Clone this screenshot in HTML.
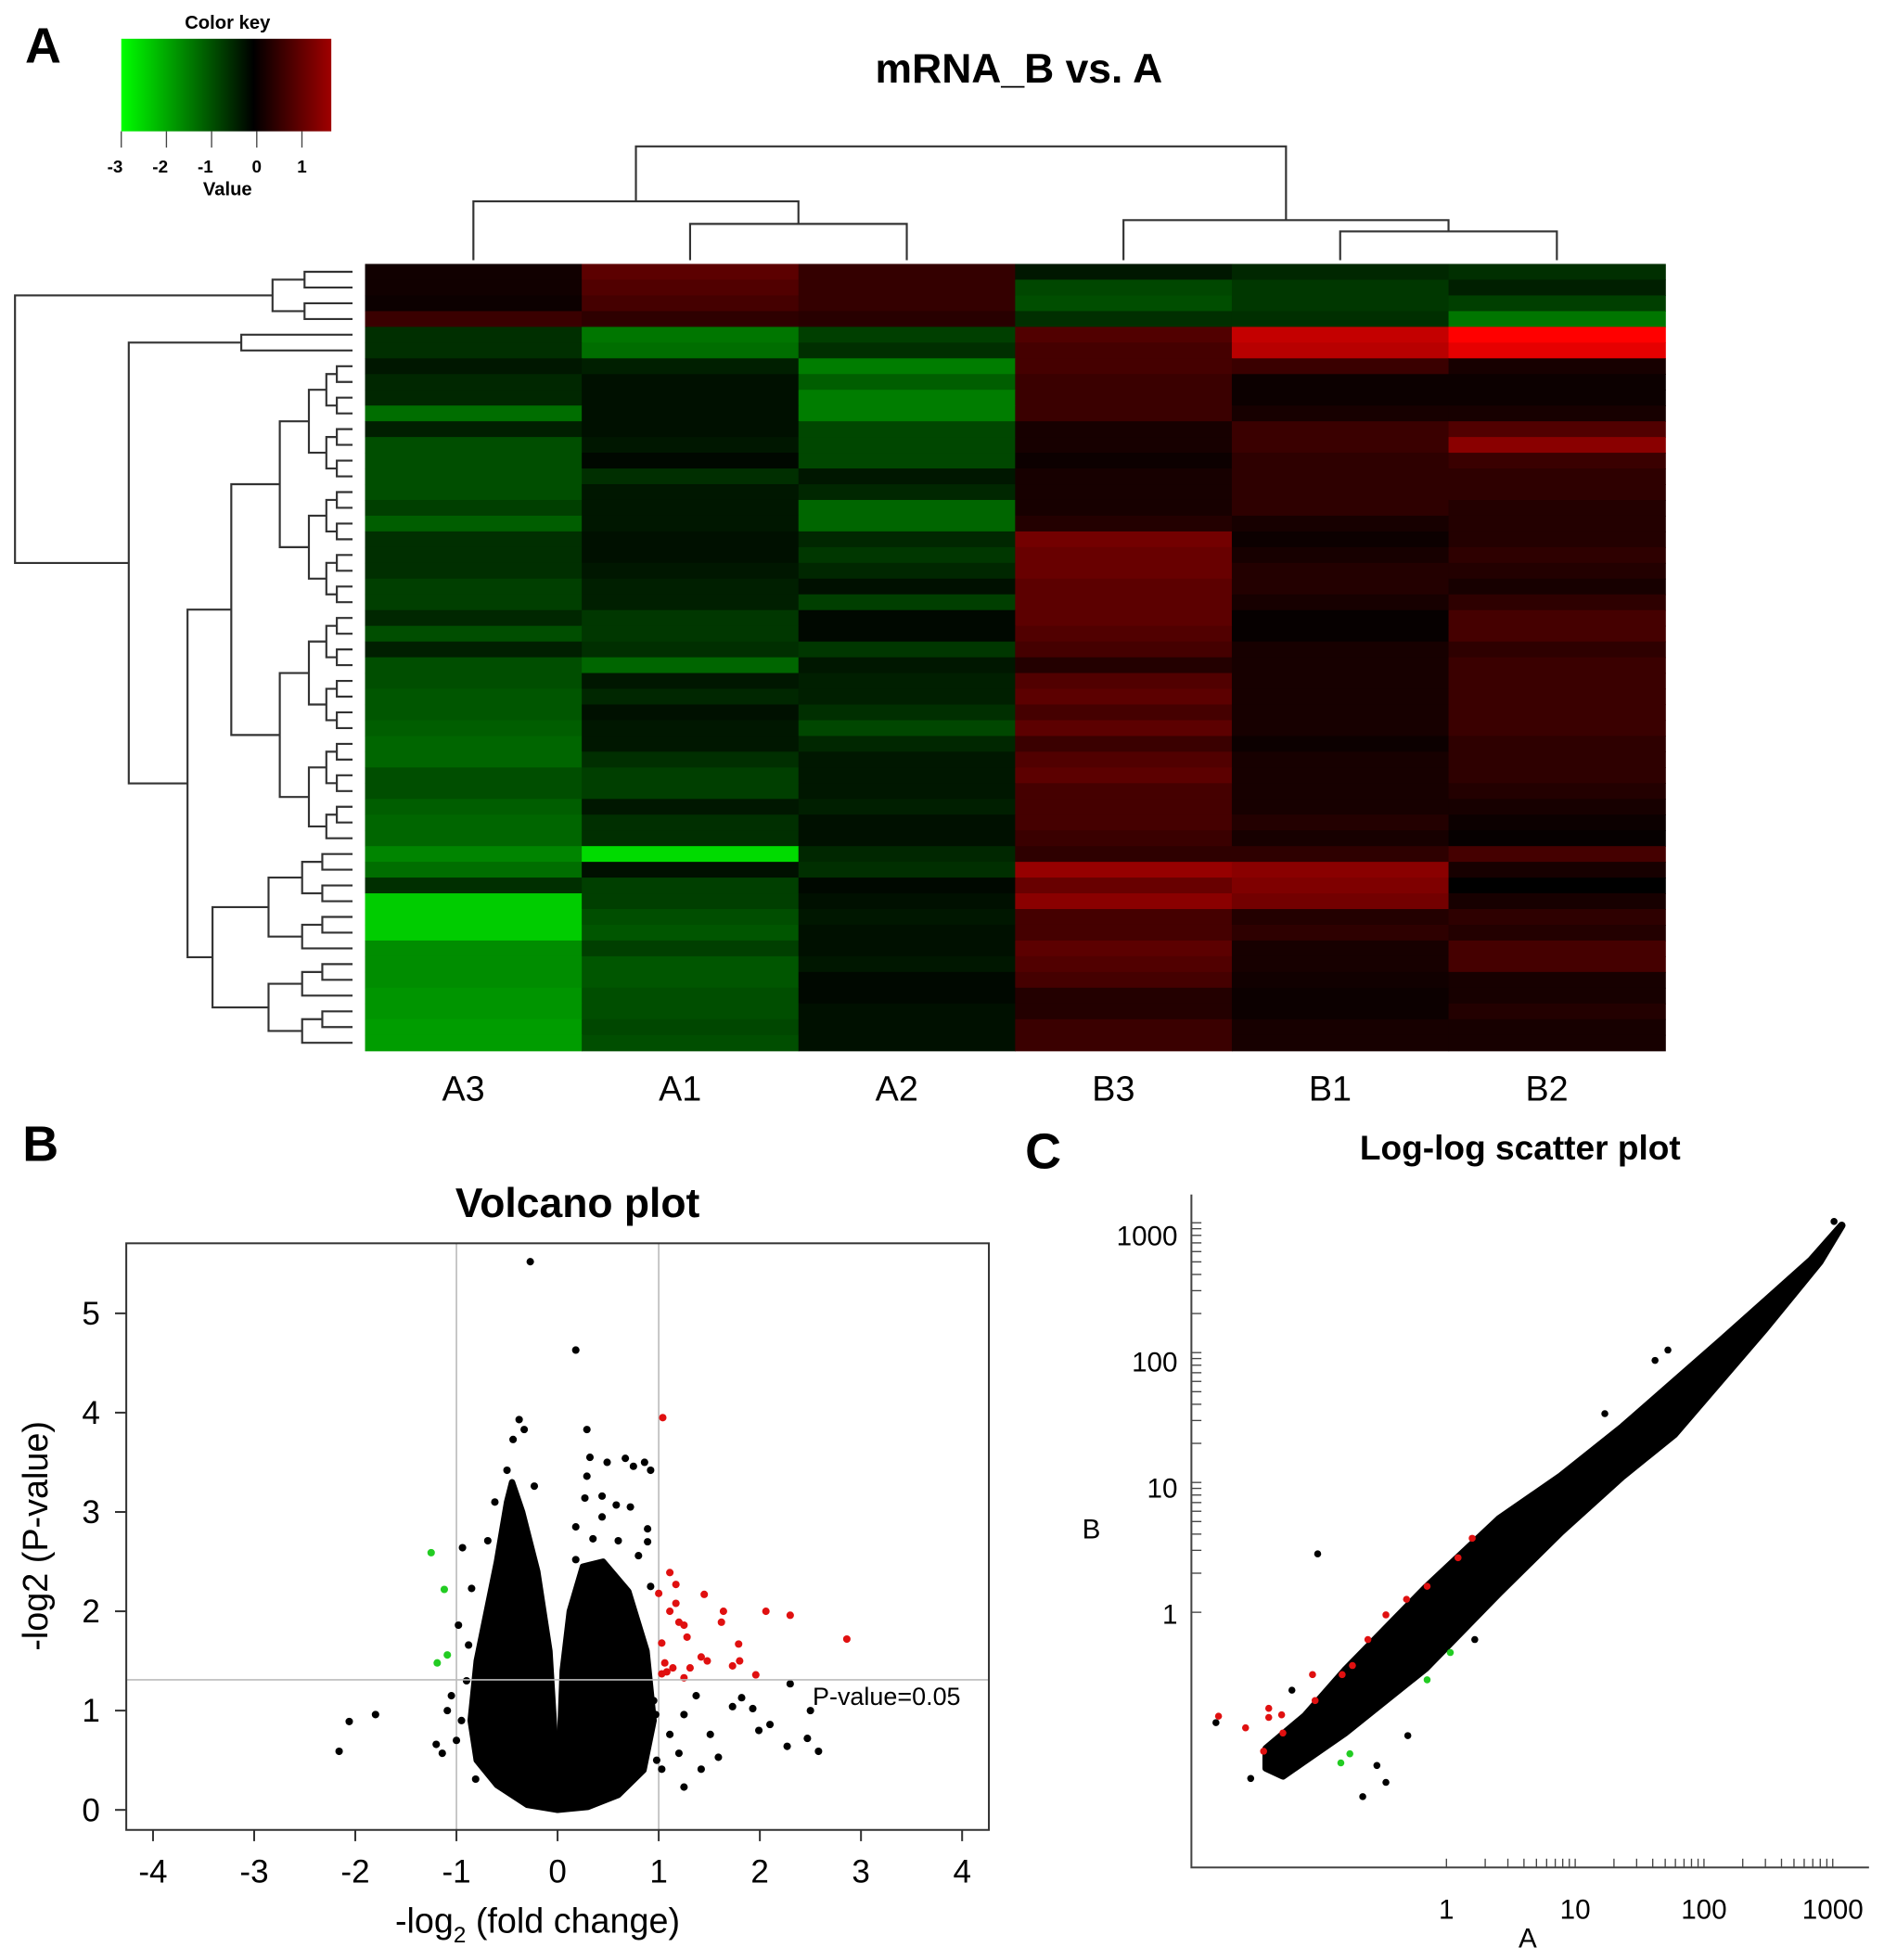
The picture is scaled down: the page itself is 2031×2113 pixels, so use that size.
<!DOCTYPE html>
<html><head><meta charset="utf-8"><style>
html,body{margin:0;padding:0;background:#fff}
svg{display:block}
text{font-family:"Liberation Sans",Arial,sans-serif;fill:#000}
</style></head><body>
<svg id="s" width="2031" height="2113" viewBox="0 0 1507 1567" preserveAspectRatio="none" xmlns="http://www.w3.org/2000/svg">
<defs><linearGradient id="ck" x1="0" x2="1" y1="0" y2="0">
<stop offset="0" stop-color="#00ff00"/><stop offset="0.63" stop-color="#000"/><stop offset="1" stop-color="#a00000"/></linearGradient></defs>
<g id="gA"></g>
<g id="gB"></g>
<g id="gC"></g>
</svg>
<script>
const NS="http://www.w3.org/2000/svg";
function el(p,t,a,txt){const e=document.createElementNS(NS,t);for(const k in a)e.setAttribute(k,a[k]);if(txt!==undefined)e.textContent=txt;p.appendChild(e);return e;}

// ---------- Panel A data ----------
const samples=["A3","A1","A2","B3","B1","B2"];
const heatValues=[
[0.15,0.8,0.45,-0.3,-0.5,-0.6],[0.15,0.7,0.45,-0.9,-0.7,-0.4],[0.1,0.6,0.45,-1.0,-0.7,-0.8],[0.5,0.4,0.35,-0.6,-0.6,-1.5],
[-0.6,-1.5,-0.8,0.7,1.7,2.3],[-0.6,-1.4,-0.6,0.6,1.6,2.0],[-0.3,-0.4,-1.6,0.6,0.5,0.2],[-0.5,-0.2,-1.2,0.5,0.1,0.1],
[-0.5,-0.2,-1.6,0.5,0.1,0.1],[-1.4,-0.2,-1.6,0.5,0.2,0.2],[-0.4,-0.2,-0.9,0.2,0.5,0.7],[-1.0,-0.3,-0.9,0.2,0.5,1.2],
[-1.0,-0.1,-0.9,0.1,0.4,0.5],[-1.0,-0.6,-0.3,0.2,0.4,0.4],[-1.0,-0.3,-0.5,0.2,0.4,0.4],[-0.8,-0.3,-1.3,0.2,0.4,0.3],
[-1.2,-0.3,-1.3,0.3,0.2,0.3],[-0.6,-0.2,-0.5,1.0,0.1,0.3],[-0.6,-0.2,-0.7,0.9,0.2,0.4],[-0.6,-0.3,-0.5,0.9,0.3,0.3],
[-0.8,-0.4,-0.2,0.8,0.3,0.2],[-0.8,-0.4,-0.8,0.8,0.2,0.4],[-0.5,-0.7,-0.1,0.8,0.05,0.6],[-1.0,-0.7,-0.1,0.7,0.05,0.6],
[-0.4,-0.6,-0.7,0.6,0.2,0.4],[-1.0,-1.3,-0.3,0.3,0.2,0.5],[-1.0,-0.3,-0.4,0.7,0.2,0.5],[-1.1,-0.5,-0.4,0.8,0.2,0.5],
[-1.1,-0.2,-0.6,0.6,0.2,0.5],[-1.2,-0.3,-0.9,0.8,0.2,0.5],[-1.3,-0.3,-0.5,0.5,0.1,0.4],[-1.3,-0.6,-0.3,0.7,0.2,0.4],
[-1.0,-0.8,-0.3,0.8,0.2,0.4],[-1.0,-0.8,-0.3,0.6,0.2,0.3],[-1.2,-0.3,-0.4,0.6,0.2,0.2],[-1.3,-0.6,-0.2,0.6,0.3,0.1],
[-1.3,-0.6,-0.2,0.5,0.2,0.05],[-1.7,-2.8,-0.5,0.4,0.4,0.6],[-1.4,-0.2,-0.6,1.3,1.2,0.2],[-0.6,-0.8,-0.1,0.9,1.1,0.0],
[-2.6,-0.8,-0.2,1.2,1.0,0.2],[-2.6,-1.0,-0.3,0.6,0.3,0.4],[-2.6,-1.1,-0.2,0.6,0.4,0.3],[-1.8,-0.8,-0.2,0.8,0.2,0.6],
[-1.8,-1.1,-0.3,0.7,0.2,0.6],[-1.8,-1.1,-0.1,0.6,0.15,0.2],[-1.9,-1.0,-0.1,0.3,0.1,0.2],[-1.9,-1.0,-0.2,0.3,0.1,0.3],
[-2.0,-0.9,-0.2,0.5,0.2,0.2],[-2.0,-1.0,-0.2,0.5,0.2,0.2]];
const keyTicks=[-3,-2,-1,0,1];

// ---------- Panel B data ----------
const volXTicks=[-4,-3,-2,-1,0,1,2,3,4];
const volYTicks=[0,1,2,3,4,5];
const cloudLeftX=[0,-0.3,-0.6,-0.8,-0.86,-0.8,-0.7,-0.6,-0.5,-0.45,-0.35,-0.2,-0.08,-0.02];
const cloudLeftY=[0,0.05,0.25,0.5,0.9,1.5,2.0,2.5,3.1,3.3,3.0,2.4,1.6,0.6];
const cloudRightX=[0,0.02,0.05,0.12,0.25,0.45,0.7,0.88,0.95,0.85,0.6,0.3];
const cloudRightY=[0,0.6,1.4,2.0,2.45,2.5,2.2,1.6,0.9,0.4,0.15,0.03];
const blackX=[-0.27,0.18,-0.94,-0.85,-0.98,-0.88,-1.05,-1.09,-1.2,-1.14,-1.0,-0.81,-0.69,-0.62,-0.5,-0.44,-0.38,-0.33,-0.23,0.29,0.32,0.49,0.67,0.75,0.86,0.92,0.29,0.27,0.44,0.58,0.44,0.72,0.89,0.18,0.35,0.6,0.89,0.18,0.8,0.92,1.59,1.25,1.42,1.51,1.73,1.82,1.99,2.1,1.93,2.3,2.27,2.47,2.58,2.5,1.25,1.37,1.2,1.03,1.11,0.97,-1.8,-2.06,-2.16,-0.78,-0.75,0.95,0.98,-0.9,-0.95];
const blackY=[5.52,4.63,2.64,2.23,1.86,1.66,1.15,1.0,0.66,0.57,0.7,0.31,2.71,3.1,3.42,3.73,3.93,3.83,3.26,3.83,3.55,3.5,3.54,3.46,3.5,3.42,3.36,3.14,3.16,3.07,2.95,3.05,2.83,2.85,2.73,2.71,2.7,2.52,2.56,2.25,0.53,0.23,0.41,0.76,1.04,1.13,0.8,0.86,1.02,1.27,0.64,0.72,0.59,1.0,0.96,1.15,0.57,0.41,0.76,0.96,0.96,0.89,0.59,0.8,1.3,1.1,0.5,1.3,0.9];
const redX=[1.04,1.11,1.17,1.0,1.45,1.17,1.11,1.64,2.06,2.3,1.2,1.62,1.25,2.86,1.28,1.03,1.79,1.42,1.48,1.8,1.06,1.14,1.73,1.31,1.96,1.03,1.25,1.08];
const redY=[3.95,2.39,2.27,2.18,2.17,2.08,2.0,2.0,2.0,1.96,1.89,1.89,1.86,1.72,1.74,1.68,1.67,1.54,1.5,1.5,1.48,1.43,1.45,1.43,1.36,1.37,1.33,1.39];
const greenX=[-1.25,-1.12,-1.09,-1.19];
const greenY=[2.59,2.22,1.56,1.48];

// ---------- Panel C data (log10 units) ----------
const llTickLabels=["1","10","100","1000"];
const llTickVals=[0,1,2,3];
const bandLX=[-1.4,-1.1,-0.79,-0.16,0.41,0.89,1.37,2.13,2.83,3.07,2.9,2.48,1.77,1.37,0.89,0.41,-0.16,-0.79,-1.27,-1.4];
const bandLY=[-1.05,-0.8,-0.45,0.19,0.72,1.05,1.43,2.09,2.71,2.98,2.7,2.19,1.37,1.05,0.62,0.15,-0.43,-0.93,-1.26,-1.2];
const llBlackX=[-1.0,1.72,1.62,1.23,-1.79,-1.52,-0.65,-0.47,-0.54,0.22,1.09,1.34,3.01,-1.2,-0.3];
const llBlackY=[0.45,2.02,1.94,1.53,-0.85,-1.28,-1.42,-1.31,-1.18,-0.21,0.80,1.04,3.01,-0.6,-0.95];
const llRedX=[0.20,0.09,-0.15,-0.31,-0.47,-0.61,-0.73,-0.81,-1.04,-1.02,-1.28,-1.38,-1.38,-1.27,-1.42,-1.77,-1.56];
const llRedY=[0.57,0.42,0.20,0.10,-0.02,-0.21,-0.41,-0.48,-0.48,-0.68,-0.79,-0.74,-0.81,-0.93,-1.07,-0.80,-0.89];
const llGreenX=[0.03,-0.15,-0.75,-0.82];
const llGreenY=[-0.31,-0.52,-1.09,-1.16];

// ================= PANEL A =================
const A=document.getElementById('gA');
let t=el(A,'text',{x:20,y:50,'font-size':40,'font-weight':'bold'},'A');

t=el(A,'text',{x:815,y:66,'font-size':33,'font-weight':'bold','text-anchor':'middle'},'mRNA_B vs. A');

const ck=el(A,'g',{});
el(ck,'text',{x:182,y:23,'font-size':15,'font-weight':'bold','text-anchor':'middle'},'Color key');
el(ck,'rect',{x:97,y:31,width:168,height:74,fill:'url(#ck)'});
const kx=v=>97+(v+3)*(168/4.65);
keyTicks.forEach(v=>{el(ck,'line',{x1:kx(v),x2:kx(v),y1:105,y2:118,stroke:'#444','stroke-width':1});
 el(ck,'text',{x:kx(v)-(v<0?5:0),y:138,'font-size':14,'font-weight':'bold','text-anchor':'middle'},String(v));});
el(ck,'text',{x:182,y:156,'font-size':15,'font-weight':'bold','text-anchor':'middle'},'Value');
const hx0=292,hx1=1332,hy0=211,hy1=840;
const cw=(hx1-hx0)/samples.length, rh=(hy1-hy0)/heatValues.length;
function col(v){if(v<0){return `rgb(0,${Math.round(Math.min(255,-v/3*235))},0)`;}return `rgb(${Math.round(Math.min(255,v*115))},0,0)`;}
const hm=el(A,'g',{});
heatValues.forEach((row,i)=>row.forEach((v,j)=>{
 const r=el(hm,'rect',{x:hx0+j*cw,y:hy0+i*rh,width:cw+0.5,height:rh+0.5,fill:col(v)});
 }));
samples.forEach((s,j)=>{const tt=el(A,'text',{x:hx0+(j+0.5)*cw-8,y:880,'font-size':28,'text-anchor':'middle'},s);
 });
const dg=el(A,'g',{stroke:'#333','stroke-width':1.6,fill:'none'});
const lx=j=>hx0+(j+0.5)*cw;
function U(g,x1,x2,yTop,y1b,y2b){el(g,'path',{d:`M${x1},${y1b}V${yTop}H${x2}V${y2b}`});}
U(dg,lx(1),lx(2),179,208,208);U(dg,lx(0),(lx(1)+lx(2))/2,161,208,179);
U(dg,lx(4),lx(5),185,208,208);U(dg,lx(3),(lx(4)+lx(5))/2,176,208,185);
U(dg,(lx(0)+(lx(1)+lx(2))/2)/2,(lx(3)+(lx(4)+lx(5))/2)/2,117,161,176);
const ld=el(A,'g',{stroke:'#333','stroke-width':1.6,fill:'none'});
const leafX=282, rowY=i=>hy0+(i+0.5)*rh;
function build(a,b,x){
 if(a===b)return rowY(a);
 const m=Math.floor((a+b)/2);
 const cx=x+(leafX-x)*0.4;
 const xa=(m===a)?leafX:cx, xb=(m+1===b)?leafX:cx;
 const ya=build(a,m,xa), yb=build(m+1,b,xb);
 el(ld,'path',{d:`M${xa},${ya}H${x}V${yb}H${xb}`});return (ya+yb)/2;}
function node(x,ca,cb){el(ld,'path',{d:`M${ca[0]},${ca[1]}H${x}V${cb[1]}H${cb[0]}`});return [x,(ca[1]+cb[1])/2];}
const n1=[218,build(0,3,218)];
const n2=[193,build(4,5,193)];
const n3=[185,build(6,36,185)];
const n4=[170,build(37,49,170)];
const nB=node(150,n3,n4);
const nR=node(103,n2,nB);
node(12,n1,nR);

// ================= PANEL B =================
const B=document.getElementById('gB');
t=el(B,'text',{x:18,y:928,'font-size':40,'font-weight':'bold'},'B');
t=el(B,'text',{x:462,y:973,'font-size':33,'font-weight':'bold','text-anchor':'middle'},'Volcano plot');
const bx=v=>446+v*80.9, by=v=>1447-v*79.4;
el(B,'line',{x1:bx(-1),x2:bx(-1),y1:994,y2:1463,stroke:'#bbb','stroke-width':1.2});
el(B,'line',{x1:bx(1),x2:bx(1),y1:994,y2:1463,stroke:'#bbb','stroke-width':1.2});
const cl=el(B,'g',{fill:'#000'});
let p=el(cl,'polygon',{points:cloudLeftX.map((x,i)=>bx(x)+','+by(cloudLeftY[i])).join(' '),stroke:'#000','stroke-width':5,'stroke-linejoin':'round'});

p=el(cl,'polygon',{points:cloudRightX.map((x,i)=>bx(x)+','+by(cloudRightY[i])).join(' '),stroke:'#000','stroke-width':5,'stroke-linejoin':'round'});

blackX.forEach((x,i)=>{const c=el(cl,'circle',{cx:bx(x),cy:by(blackY[i]),r:3});});
redX.forEach((x,i)=>{const c=el(cl,'circle',{cx:bx(x),cy:by(redY[i]),r:3,fill:'#e01010'});});
greenX.forEach((x,i)=>{const c=el(cl,'circle',{cx:bx(x),cy:by(greenY[i]),r:3,fill:'#22cc22'});});
el(B,'line',{x1:101,x2:791,y1:by(1.31),y2:by(1.31),stroke:'#bbb','stroke-width':1.2});
t=el(B,'text',{x:650,y:1363,'font-size':20},'P-value=0.05');
el(B,'rect',{x:101,y:994,width:690,height:469,fill:'none',stroke:'#333','stroke-width':1.5});
volXTicks.forEach(v=>{el(B,'line',{x1:bx(v),x2:bx(v),y1:1463,y2:1472,stroke:'#333','stroke-width':1.5});
 const tt=el(B,'text',{x:bx(v),y:1505,'font-size':26,'text-anchor':'middle'},String(v));});
volYTicks.forEach(v=>{el(B,'line',{x1:92,x2:101,y1:by(v),y2:by(v),stroke:'#333','stroke-width':1.5});
 const tt=el(B,'text',{x:80,y:by(v)+9,'font-size':26,'text-anchor':'end'},String(v));});
t=el(B,'text',{x:430,y:1545,'font-size':28,'text-anchor':'middle'});
t.innerHTML='-log<tspan font-size="18" dy="8">2</tspan><tspan dy="-8"> (fold change)</tspan>';
t=el(B,'text',{x:0,y:0,'font-size':28,'text-anchor':'middle',transform:'translate(38,1228) rotate(-90)'},'-log2 (P-value)');

// ================= PANEL C =================
const C=document.getElementById('gC');
t=el(C,'text',{x:820,y:934,'font-size':40,'font-weight':'bold'},'C');
t=el(C,'text',{x:1216,y:927,'font-size':27.5,'font-weight':'bold','text-anchor':'middle'},'Log-log scatter plot');
const cx=v=>1157+v*103, cy=v=>1289-v*103.8;
el(C,'path',{d:'M953,955V1493H1495',fill:'none',stroke:'#444','stroke-width':1.5});
const sp=el(C,'g',{fill:'#000'});
p=el(sp,'polygon',{points:bandLX.map((x,i)=>cx(x)+','+cy(bandLY[i])).join(' '),stroke:'#000','stroke-width':6,'stroke-linejoin':'round'});
llBlackX.forEach((x,i)=>{const c=el(sp,'circle',{cx:cx(x),cy:cy(llBlackY[i]),r:2.8});});
llRedX.forEach((x,i)=>{const c=el(sp,'circle',{cx:cx(x),cy:cy(llRedY[i]),r:2.8,fill:'#e01010'});});
llGreenX.forEach((x,i)=>{const c=el(sp,'circle',{cx:cx(x),cy:cy(llGreenY[i]),r:2.8,fill:'#22cc22'});});
llTickVals.forEach((v,k)=>{
 for(let m=1;m<=9;m++){const lv=v+Math.log10(m);if(lv>3.1)break;
  el(C,'line',{x1:cx(lv),x2:cx(lv),y1:1486,y2:1493,stroke:'#444','stroke-width':1});
  el(C,'line',{x1:953,x2:961,y1:cy(lv),y2:cy(lv),stroke:'#444','stroke-width':1});}
 let tt=el(C,'text',{x:cx(v),y:1534,'font-size':22,'text-anchor':'middle'},llTickLabels[k]);
 tt=el(C,'text',{x:942,y:cy(v)+9+3*v,'font-size':22,'text-anchor':'end'},llTickLabels[k]);});
t=el(C,'text',{x:1222,y:1557,'font-size':22,'text-anchor':'middle'},'A');
t=el(C,'text',{x:873,y:1230,'font-size':22,'text-anchor':'middle'},'B');
</script>
</body></html>
